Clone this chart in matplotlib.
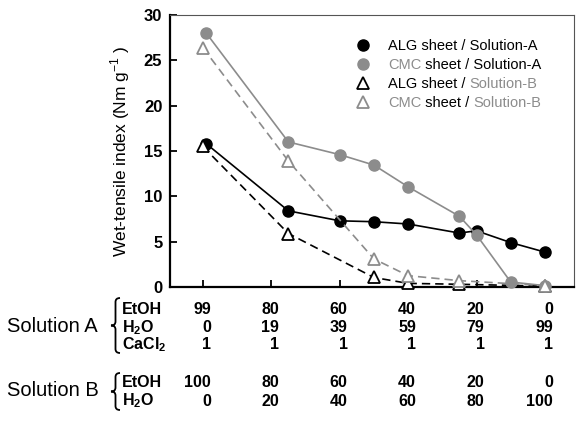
import matplotlib
matplotlib.use('Agg')
import matplotlib.pyplot as plt
import matplotlib.transforms as mtransforms
from matplotlib.lines import Line2D
from matplotlib.path import Path
from matplotlib.patches import PathPatch
from matplotlib.font_manager import FontProperties

plt.rcParams['font.family'] = ['Liberation Sans', 'DejaVu Sans']
plt.rcParams['mathtext.fontset'] = 'custom'
plt.rcParams['mathtext.rm'] = 'Liberation Sans'
plt.rcParams['mathtext.bf'] = 'Liberation Sans:bold'

GREY = '#8c8c8c'

# EtOH content (%) of the measured points and wet-tensile index
etoh_a = [99, 75, 60, 50, 40, 25, 20, 10, 0]
alg_a = [15.8, 8.4, 7.3, 7.2, 6.95, 5.95, 6.2, 4.9, 3.85]
cmc_a = [28.0, 16.0, 14.6, 13.45, 11.05, 7.8, 5.75, 0.55, 0.15]

etoh_b = [100, 75, 50, 40, 25, 0]
alg_b = [15.5, 5.9, 1.05, 0.4, 0.3, 0.1]
cmc_b = [26.4, 13.9, 3.1, 1.25, 0.7, 0.15]

# composition table under the axis
col_pos = [100, 80, 60, 40, 20, 0]
rows_a = ['EtOH', r'H$_\mathbf{2}$O', r'CaCl$_\mathbf{2}$']
vals_a = [[99, 80, 60, 40, 20, 0],
          [0, 19, 39, 59, 79, 99],
          [1, 1, 1, 1, 1, 1]]
rows_b = ['EtOH', r'H$_\mathbf{2}$O']
vals_b = [[100, 80, 60, 40, 20, 0],
          [0, 20, 40, 60, 80, 100]]
y_ticks = [0, 5, 10, 15, 20, 25, 30]

W, H = 579, 437
fig = plt.figure(figsize=(W / 100, H / 100), dpi=100)
ax = fig.add_axes([170 / W, 1 - 287 / H, 404 / W, 272 / H])


def fx(x):
    return x / W


def fy(y):
    return 1 - y / H


ax.plot(etoh_a, alg_a, '-o', color='black', lw=1.2, ms=8, clip_on=False, zorder=3)
ax.plot(etoh_b, alg_b, '--^', color='black', lw=1.2, ms=9, mfc='white',
        mew=1.3, dashes=(5, 3), clip_on=False, zorder=3)
ax.plot(etoh_a, cmc_a, '-o', color=GREY, lw=1.2, ms=8, clip_on=False, zorder=4)
ax.plot(etoh_b, cmc_b, '--^', color=GREY, lw=1.2, ms=9, mfc='white',
        mew=1.3, dashes=(5, 3), clip_on=False, zorder=4)

ax.set_xlim(109.6, -8.5)
ax.set_ylim(0, 30)
ax.set_xticks(col_pos)
ax.set_xticklabels([])
ax.set_yticks(y_ticks)
ax.tick_params(direction='in', length=5, width=1.3, labelsize=12, pad=5.5)
for lab in ax.get_yticklabels():
    lab.set_fontweight('bold')
for side in ['left', 'bottom']:
    ax.spines[side].set_linewidth(1.6)
for side in ['top', 'right']:
    ax.spines[side].set_linewidth(0.8)
    ax.spines[side].set_color('#555555')

ax.set_ylabel(r'Wet-tensile index (Nm g$^{-1}$ )', fontsize=12.5)
ax.yaxis.set_label_coords(-0.094, 0.5)

# legend with two-coloured labels
handles = [
    Line2D([], [], ls='none', marker='o', color='black', ms=8),
    Line2D([], [], ls='none', marker='o', color=GREY, ms=8),
    Line2D([], [], ls='none', marker='^', color='black', mfc='white', ms=9, mew=1.3),
    Line2D([], [], ls='none', marker='^', color=GREY, mfc='white', ms=9, mew=1.3),
]
pieces = [
    [('ALG sheet / Solution-A', 'black')],
    [('CMC', GREY), (' sheet / Solution-A', 'black')],
    [('ALG sheet / ', 'black'), ('Solution-B', GREY)],
    [('CMC', GREY), (' sheet / ', 'black'), ('Solution-B', GREY)],
]
labels = [''.join(p[0] for p in row) for row in pieces]
LEG_FS = 10.5
leg = ax.legend(handles, labels, loc='upper left', bbox_to_anchor=(0.46, 0.913),
                frameon=False, fontsize=LEG_FS, handlelength=1.0, handletextpad=1.2,
                labelspacing=0.36, borderpad=0, borderaxespad=0)

fig.canvas.draw()
renderer = fig.canvas.get_renderer()
fp = FontProperties(family=['Liberation Sans', 'DejaVu Sans'], size=LEG_FS)
ref_w = renderer.get_text_width_height_descent('l', fp, False)[0]
for txt, row in zip(leg.get_texts(), pieces):
    bb = txt.get_window_extent(renderer)
    prefix = ''
    for s, c in row:
        dx = renderer.get_text_width_height_descent(prefix + 'l', fp, False)[0] - ref_w
        fig.text(bb.x0 + dx, bb.y0, s, transform=mtransforms.IdentityTransform(),
                 ha='left', va='bottom', fontproperties=fp, color=c)
        prefix += s
    txt.set_text('')

# composition table
col_tr = mtransforms.blended_transform_factory(ax.transData, fig.transFigure)
col_tr = col_tr + mtransforms.ScaledTranslation(8 / 100, 0, fig.dpi_scale_trans)


def table(rows, vals, baselines):
    for name, row, yb in zip(rows, vals, baselines):
        fig.text(fx(122), fy(yb), name, ha='left', va='baseline',
                 fontsize=11.5, fontweight='bold')
        for xpos, v in zip(col_pos, row):
            fig.text(xpos, fy(yb), str(v), transform=col_tr, ha='right',
                     va='baseline', fontsize=11.5, fontweight='bold')


def brace(top, bottom, x_tip=111, x_end=120):
    mid = (top + bottom) / 2
    xm = (x_tip + x_end) / 2
    r = 4
    pts = [(x_end, top), (xm, top), (xm, top + r), (xm, mid - r), (xm, mid), (x_tip, mid),
           (xm, mid), (xm, mid + r), (xm, bottom - r), (xm, bottom), (x_end, bottom)]
    codes = [Path.MOVETO, Path.CURVE3, Path.CURVE3, Path.LINETO, Path.CURVE3, Path.CURVE3,
             Path.CURVE3, Path.CURVE3, Path.LINETO, Path.CURVE3, Path.CURVE3]
    path = Path([(fx(x), fy(y)) for x, y in pts], codes)
    fig.patches.append(PathPatch(path, fill=False, lw=1.3, color='black',
                                 transform=fig.transFigure))


table(rows_a, vals_a, [313.5, 332, 349])
table(rows_b, vals_b, [387, 405.5])
fig.text(fx(7), fy(332), 'Solution A', ha='left', va='baseline', fontsize=14.5)
fig.text(fx(7), fy(396), 'Solution B', ha='left', va='baseline', fontsize=14.5)
brace(298, 353)
brace(373, 410)

fig.savefig('out.png', dpi=100)
